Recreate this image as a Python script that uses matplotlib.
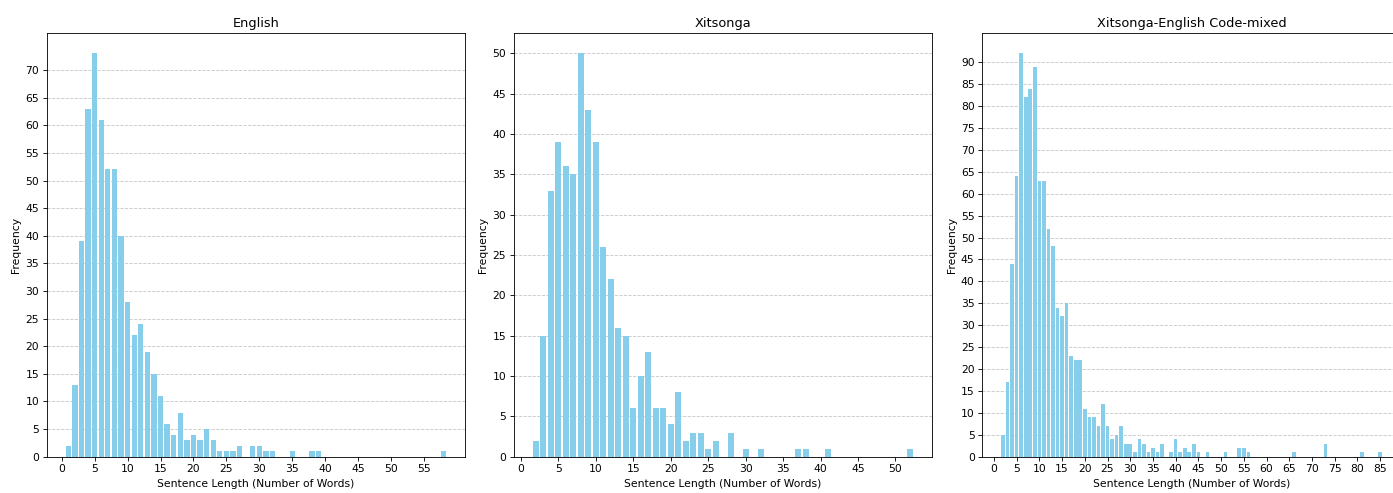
import numpy as np
import matplotlib
matplotlib.use("Agg")
import matplotlib.pyplot as plt

# Sentence length -> frequency
en_len = [1, 2, 3, 4, 5, 6, 7, 8, 9, 10, 11, 12, 13, 14, 15, 16, 17, 18, 19, 20,
          21, 22, 23, 24, 25, 26, 27, 29, 30, 31, 32, 35, 38, 39, 58]
en_freq = [2, 13, 39, 63, 73, 61, 52, 52, 40, 28, 22, 24, 19, 15, 11, 6, 4, 8, 3, 4,
           3, 5, 3, 1, 1, 1, 2, 2, 2, 1, 1, 1, 1, 1, 1]

ts_len = [2, 3, 4, 5, 6, 7, 8, 9, 10, 11, 12, 13, 14, 15, 16, 17, 18, 19, 20, 21,
          22, 23, 24, 25, 26, 28, 30, 32, 37, 38, 41, 52]
ts_freq = [2, 15, 33, 39, 36, 35, 50, 43, 39, 26, 22, 16, 15, 6, 10, 13, 6, 6, 4, 8,
           2, 3, 3, 1, 2, 3, 1, 1, 1, 1, 1, 1]

cm_len = [2, 3, 4, 5, 6, 7, 8, 9, 10, 11, 12, 13, 14, 15, 16, 17, 18, 19, 20, 21,
          22, 23, 24, 25, 26, 27, 28, 29, 30, 31, 32, 33, 34, 35, 36, 37, 39, 40, 41,
          42, 43, 44, 45, 47, 51, 54, 55, 56, 66, 73, 81, 85]
cm_freq = [5, 17, 44, 64, 92, 82, 84, 89, 63, 63, 52, 48, 34, 32, 35, 23, 22, 22, 11, 9,
           9, 7, 12, 7, 4, 5, 7, 3, 3, 1, 4, 3, 1, 2, 1, 3, 1, 4, 1,
           2, 1, 3, 1, 1, 1, 2, 2, 1, 1, 3, 1, 1]

titles = ["English", "Xitsonga", "Xitsonga-English Code-mixed"]
datasets = [(en_len, en_freq), (ts_len, ts_freq), (cm_len, cm_freq)]

dpi = 1393 / 18
fig = plt.figure(figsize=(18, 493 / dpi))

lefts = [0.0335, 0.3688, 0.7051]
for left, title, (lengths, freqs) in zip(lefts, titles, datasets):
    ax = fig.add_axes([left, 0.0736, 0.3006, 0.8588])
    ax.bar(lengths, freqs, color="skyblue")
    ax.set_axisbelow(True)
    ax.grid(axis="y", linestyle="--", alpha=0.7)
    ax.set_xticks(np.arange(0, max(lengths) + 1, 5))
    ax.set_yticks(np.arange(0, max(freqs) + 1, 5))
    ax.set_title(title)
    ax.set_xlabel("Sentence Length (Number of Words)")
    ax.set_ylabel("Frequency")

fig.savefig("out.png", dpi=dpi)
